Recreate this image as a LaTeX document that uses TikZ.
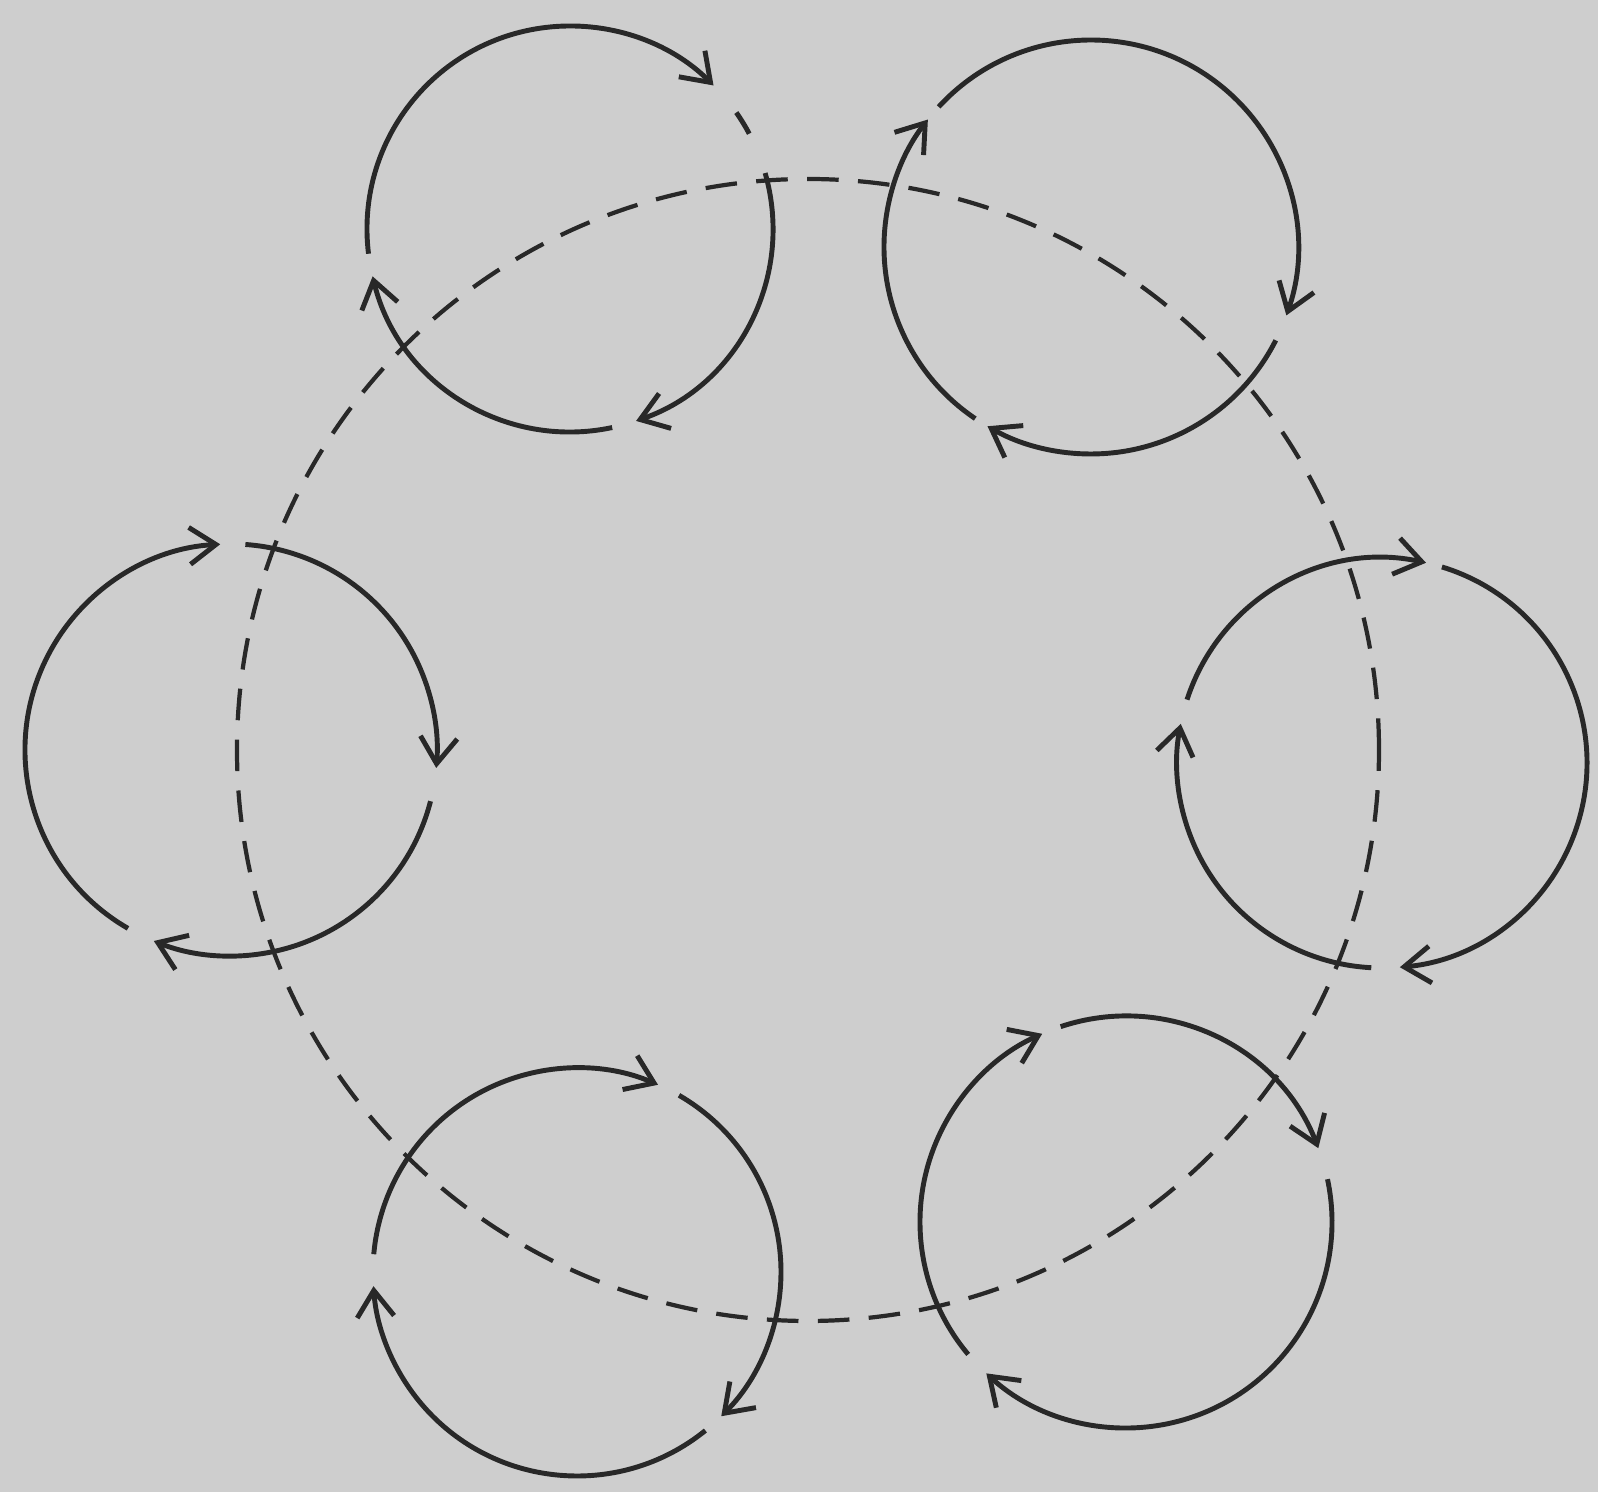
\documentclass[tikz,border=0pt]{standalone}
\usepackage{amsmath}
\usepackage{tikz}
\usetikzlibrary{arrows.meta}
\definecolor{paper}{RGB}{206,206,206}
\definecolor{ink}{RGB}{40,40,40}

\begin{document}
\begin{tikzpicture}[spin/.style={ink,line width=1.4pt,-{Straight Barb[length=7.5pt,width=10.5pt]}},
  plain/.style={ink,line width=1.4pt},
  orbit/.style={ink,line width=1.2pt,dash pattern=on 9pt off 5.5pt}]

\fill[paper] (0,0) rectangle (15.98,14.92);
\useasboundingbox (0,0) rectangle (15.98,14.92);

%Big circle
\coordinate (o) at (8.08,7.42);
\draw[orbit] (o) circle [radius=5.71];

%First circle
\coordinate (c1) at (5.70,12.63);
\draw[spin] ([shift={(187:2.03)}]c1) arc [start angle=187,end angle=45,radius=2.03]; \draw[plain] ([shift={(35:2.03)}]c1) arc [start angle=35,end angle=28,radius=2.03];
\draw[spin] ([shift={(16:2.03)}]c1) arc [start angle=16,end angle=-71,radius=2.03]; \draw[spin] ([shift={(-78:2.03)}]c1) arc [start angle=-78,end angle=-166.5,radius=2.03];

%Second circle
\coordinate (c2) at (10.91,12.45);
\draw[spin] ([shift={(137.4:2.07)}]c2) arc [start angle=137.4,end angle=-19.3,radius=2.07]; \draw[spin] ([shift={(-26.8:2.07)}]c2) arc [start angle=-26.8,end angle=-120,radius=2.07];
\draw[spin] ([shift={(-124:2.07)}]c2) arc [start angle=-124,end angle=-218,radius=2.07];

%Third circle
\coordinate (c3) at (2.31,7.42);
\draw[spin] ([shift={(240:2.06)}]c3) arc [start angle=240,end angle=93,radius=2.06]; \draw[spin] ([shift={(86:2.06)}]c3) arc [start angle=86,end angle=-5,radius=2.06];
\draw[spin] ([shift={(-14.4:2.06)}]c3) arc [start angle=-14.4,end angle=-112,radius=2.06];

%Fourth circle
\coordinate (c4) at (13.82,7.29);
\draw[spin] ([shift={(162:2.05)}]c4) arc [start angle=162,end angle=77.6,radius=2.05]; \draw[spin] ([shift={(73:2.05)}]c4) arc [start angle=73,end angle=-85,radius=2.05];
\draw[spin] ([shift={(-93:2.05)}]c4) arc [start angle=-93,end angle=-191,radius=2.05];

%Fifth circle
\coordinate (c5) at (5.77,2.20);
\draw[spin] ([shift={(175:2.04)}]c5) arc [start angle=175,end angle=66.6,radius=2.04]; \draw[spin] ([shift={(60:2.04)}]c5) arc [start angle=60,end angle=-45,radius=2.04];
\draw[spin] ([shift={(-51:2.04)}]c5) arc [start angle=-51,end angle=-176,radius=2.04];

%Sixth circle
\coordinate (c6) at (11.26,2.70);
\draw[spin] ([shift={(220:2.06)}]c6) arc [start angle=220,end angle=114,radius=2.06]; \draw[spin] ([shift={(108.5:2.06)}]c6) arc [start angle=108.5,end angle=21,radius=2.06];
\draw[spin] ([shift={(12:2.06)}]c6) arc [start angle=12,end angle=-132.7,radius=2.06];

\end{tikzpicture}
\end{document}
